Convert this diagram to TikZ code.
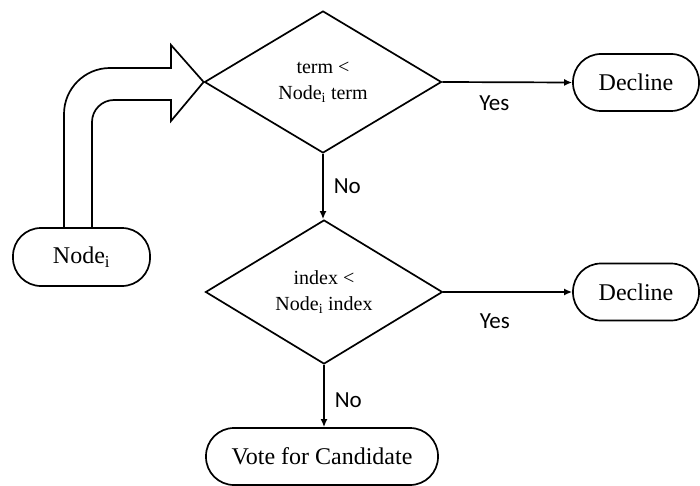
\documentclass[tikz,border=0pt]{standalone}
\usepackage{fontspec}
\setmainfont{Liberation Serif}
\newfontfamily\labelfont{Carlito}
\usetikzlibrary{arrows.meta,shapes.geometric,calc}

\tikzset{
  every picture/.style={x=1pt,y=-1pt},
  line/.style={line width=1.7pt,black},
  termbox/.style={line, draw, rectangle, rounded corners=28pt, inner sep=0pt,
                  font=\fontsize{24}{28}\selectfont},
  decision/.style={line, draw, diamond, inner sep=0pt, align=center,
                   font=\fontsize{20}{26}\selectfont},
  flow/.style={line, -{Latex[length=8pt,width=7pt]}},
  answer/.style={font=\labelfont\fontsize{23}{26}\selectfont, inner sep=0pt},
  blockarrow/.style={line, line join=miter},
}

\begin{document}
\begin{tikzpicture}
  \useasboundingbox (0,0) rectangle (700,486);

  % decision steps
  \node[decision, minimum width=237pt, minimum height=142pt] (d1) at (323,82)
       {term <\\Node\textsubscript{i} term};
  \node[decision, minimum width=237pt, minimum height=144pt] (d2) at (324,292)
       {index <\\Node\textsubscript{i} index};

  % start / end boxes
  \node[termbox, minimum width=137pt, minimum height=58pt] (ni) at (81.5,257)
       {Node\textsubscript{i}};
  \node[termbox, minimum width=126pt, minimum height=57pt] (dec1) at (636,82.5)
       {Decline};
  \node[termbox, minimum width=126pt, minimum height=57pt] (dec2) at (636,292)
       {Decline};
  \node[termbox, minimum width=232pt, minimum height=57pt] (vote) at (322,456.5)
       {Vote for Candidate};

  % wide bent arrow from Node_i into the first check
  \coordinate (ol) at ($(ni.north)+(-17.5,0)$);
  \coordinate (il) at ($(ni.north)+(10.5,0)$);
  \draw[blockarrow]
    (ol) -- (64,114) .. controls (64,88.6) and (84.6,68) .. (110,68)
    -- (171,68) -- (171,45) -- (d1.west) -- (171,121) -- (171,100)
    -- (114,100) .. controls (101.9,100) and (92,109.9) .. (92,122)
    -- (il);

  % connectors
  \draw[flow] (d1.east) -- node[answer, pos=0.4, below=13pt] {Yes} (dec1.west);
  \draw[flow] (d2.east) -- node[answer, pos=0.4, below=21pt] {Yes} (dec2.west);
  \draw[flow] (d1.south) -- node[answer, right=10pt] {No} (d1.south |- d2.north);
  \draw[flow] (d2.south) -- node[answer, right=10pt, yshift=-4pt] {No} (d2.south |- vote.north);
\end{tikzpicture}
\end{document}
